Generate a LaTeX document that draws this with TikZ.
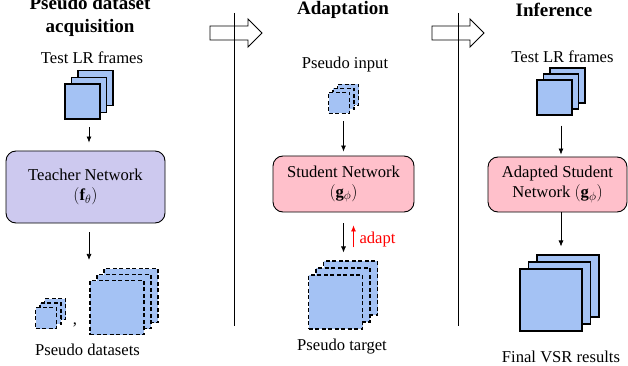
\documentclass[tikz,border=0pt]{standalone}
\usepackage{fontspec}
\setmainfont{Liberation Serif}
\usetikzlibrary{arrows.meta,calc}

\definecolor{framefill}{RGB}{164,194,244}
\definecolor{teacherfill}{RGB}{205,201,239}
\definecolor{studentfill}{RGB}{255,192,203}
\definecolor{adaptred}{RGB}{255,0,0}

\newcommand{\bodyfont}{\rmfamily\fontsize{16.6}{20}\selectfont}
\newcommand{\titlefont}{\rmfamily\fontsize{19}{23}\selectfont\bfseries}

\tikzset{
  lrframe/.style={draw=black, line width=1.1pt, fill=framefill, inner sep=0pt},
  pseudoframe/.style={lrframe, dash pattern=on 4pt off 2.5pt},
  netbox/.style={draw=black, line width=0.9pt, rounded corners=10pt,
                 align=center, inner sep=0pt, font=\bodyfont},
  titletext/.style={align=center, font=\titlefont},
  captiontext/.style={font=\bodyfont},
  flow/.style={-{Latex[length=6pt,width=5pt]}, line width=0.7pt},
  adaptflow/.style={flow, draw=adaptred},
  stagearrow/.style={draw=black, line width=0.9pt, fill=white},
  divider/.style={draw=black, line width=0.9pt}
}

% three stacked frames: name, centre of front frame, size, x offset, y offset, style
\newcommand{\framestack}[6]{%
  \foreach \layer in {2,1,0} {
    \node[#6, minimum size=#3] (#1-\layer) at ($(#2)+(\layer*#4,-\layer*#5)$) {};
  }%
}

\begin{document}
\begin{tikzpicture}[x=1pt, y=-1pt]
  \useasboundingbox (0,0) rectangle (628,366);

  % stage arrows and dividers
  \foreach \x in {210,432}
    \draw[stagearrow] (\x,26) -- ++(38,0) -- ++(0,-7) -- ++(14,14)
      -- ++(-14,14) -- ++(0,-7) -- ++(-38,0) -- cycle;
  \foreach \x in {234,458}
    \draw[divider] (\x,13) -- (\x,326);

  % titles
  \node[titletext] (title1) at (90,16) {Pseudo dataset\\acquisition};
  \node[titletext] (title2) at (343,10) {Adaptation};
  \node[titletext] (title3) at (554,10) {Inference};

  % pseudo dataset acquisition
  \node[captiontext] (lrtext1) at (92,58) {Test LR frames};
  \framestack{lr1}{82.5,101.5}{35pt}{6.5}{6.7}{lrframe}
  \node[netbox, fill=teacherfill, minimum width=159pt, minimum height=72pt]
    (teacher) at (85.5,187) {Teacher Network\\$(\mathbf{f}_{\theta})$};
  \framestack{dsetA}{46,318}{21pt}{4.5}{4.5}{pseudoframe}
  \node[captiontext, anchor=base] (comma) at (75,324) {,};
  \framestack{dsetB}{117,307.5}{54pt}{7}{6}{pseudoframe}
  \node[captiontext] (dsettext) at (87.5,350) {Pseudo datasets};

  \draw[flow, shorten <=14pt, shorten >=8pt]
    (lr1-1.south) -- (lr1-1.south |- teacher.north);
  \draw[flow, shorten <=9pt, shorten >=8pt]
    (teacher.south -| lr1-1.center) -- (dsetB-2.north -| lr1-1.center);

  % adaptation
  \node[captiontext] (inputtext) at (345,65) {Pseudo input};
  \framestack{input}{339,103}{21pt}{4.5}{4}{pseudoframe}
  \node[netbox, fill=studentfill, minimum width=141pt, minimum height=56pt]
    (student) at (343.5,184) {Student Network\\$(\mathbf{g}_{\phi})$};
  \framestack{target}{335.5,302}{54pt}{7.5}{7}{pseudoframe}
  \node[captiontext] (targettext) at (342,347) {Pseudo target};

  \draw[flow, shorten <=11pt, shorten >=4pt]
    (input-1.south) -- (input-1.south |- student.north);
  \draw[flow, shorten <=11pt, shorten >=8pt]
    (student.south) -- (student.south |- target-2.north);
  \draw[adaptflow, shorten <=13pt, shorten >=13pt]
    ([xshift=10pt]student.south |- target-2.north) -- ([xshift=10pt]student.south);
  \node[captiontext, text=adaptred] (adapttext) at (377.5,240) {adapt};

  % inference
  \node[captiontext] (lrtext3) at (562.5,57) {Test LR frames};
  \framestack{lr3}{554.5,97.5}{35pt}{6.5}{6}{lrframe}
  \node[netbox, fill=studentfill, minimum width=139pt, minimum height=55pt]
    (adapted) at (557.5,184.5) {Adapted Student\\Network $(\mathbf{g}_{\phi})$};
  \framestack{result}{551,300}{62pt}{8.5}{7}{lrframe}
  \node[captiontext] (resulttext) at (561,357) {Final VSR results};

  \draw[flow, shorten <=16pt, shorten >=2pt]
    (lr3-1.south) -- (lr3-1.south |- adapted.north);
  \draw[flow, shorten >=8pt]
    (adapted.south -| lr3-1.center) -- (result-2.north -| lr3-1.center);
\end{tikzpicture}
\end{document}
